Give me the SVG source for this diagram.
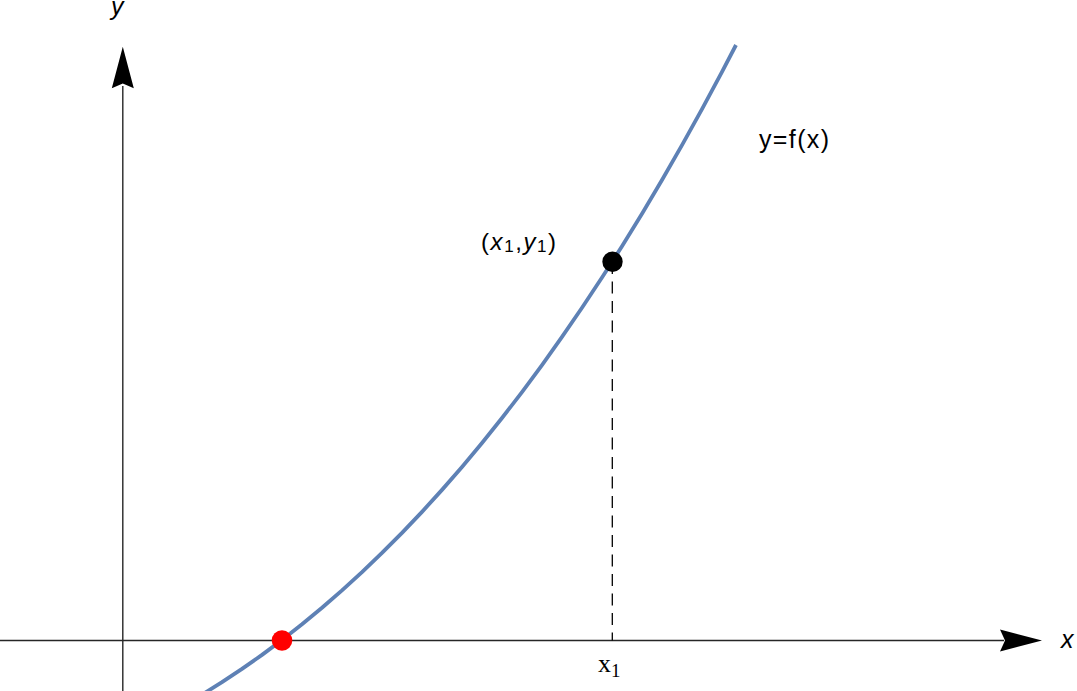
<svg xmlns="http://www.w3.org/2000/svg" width="1077" height="691" viewBox="0 0 1077 691">
  <style>
    .axis { stroke: #262626; stroke-width: 1.4; fill: none; }
    .head { fill: #000; stroke: none; }
    .curve { stroke: #5E81B5; stroke-width: 3.8; fill: none; stroke-linejoin: round; }
    .dash { stroke: #000; stroke-width: 1.3; stroke-dasharray: 12 7.5; fill: none; }
    .sans { font-family: "Liberation Sans", Arial, sans-serif; fill: #000; }
    .serif { font-family: "Liberation Serif", "Times New Roman", serif; fill: #000; }
  </style>
  <rect width="1077" height="691" fill="#fff"/>
  <g id="connectors">
    <line class="axis" x1="0" y1="640.5" x2="1004" y2="640.5"/>
    <polygon class="head" points="1042,640.5 1000,629.5 1005,640.5 1000,651.5"/>
    <line class="axis" x1="122.8" y1="691" x2="122.8" y2="86"/>
    <polygon class="head" points="122.8,46.7 111.8,88.3 122.8,83.5 133.8,88.3"/>
    <line class="dash" x1="612.3" y1="262" x2="612.3" y2="640.5"/>
  </g>
  <g id="curve">
    <polyline class="curve" points="202,694.67 222,682.18 242,668.91 262,654.86 282,640 302,624.32 322,607.79 342,590.40 362,572.13 382,552.96 402,532.88 422,511.85 442,489.88 462,466.93 482,443.01 502,418.05 522,392.08 542,365.06 562,336.97 582,307.80 602,277.54 612,262 622,246.16 642,213.64 662,179.96 682,145.10 702,109.05 722,71.80 736,45"/>
  </g>
  <g id="point-root">
    <circle cx="282" cy="640.5" r="10.3" fill="#FF0000"/>
  </g>
  <g id="point-x1y1">
    <circle cx="612.5" cy="261.8" r="10.2" fill="#000"/>
  </g>
  <g id="label-y-axis">
    <text class="sans" x="111" y="15" font-size="25" font-style="italic">y</text>
  </g>
  <g id="label-x-axis">
    <text class="sans" x="1061" y="648" font-size="25" font-style="italic">x</text>
  </g>
  <g id="label-fx">
    <text class="sans" x="759" y="148" font-size="25" textLength="70" lengthAdjust="spacing">y=f(x)</text>
  </g>
  <g id="label-point">
    <text class="sans" x="481" y="250" font-size="24" textLength="75" lengthAdjust="spacing">(<tspan font-style="italic">x</tspan><tspan font-size="17" dy="2">1</tspan><tspan dy="-2">,</tspan><tspan font-style="italic">y</tspan><tspan font-size="17" dy="2">1</tspan><tspan dy="-2">)</tspan></text>
  </g>
  <g id="label-x1">
    <text class="serif" x="598" y="672" font-size="26">x<tspan font-size="19" dy="5">1</tspan></text>
  </g>
</svg>
